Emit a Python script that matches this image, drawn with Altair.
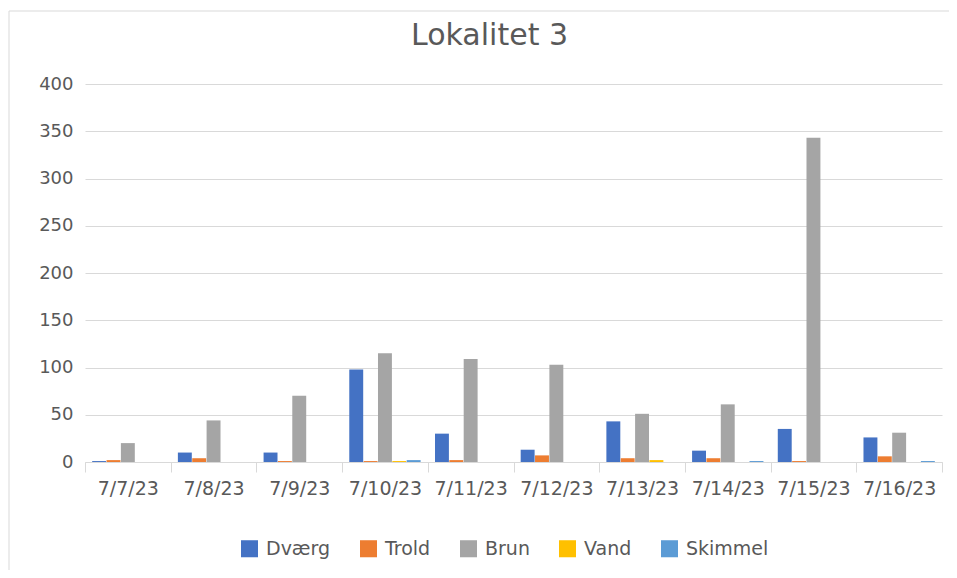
import altair as alt
import pandas as pd

dates = ["7/7/23", "7/8/23", "7/9/23", "7/10/23", "7/11/23", "7/12/23",
         "7/13/23", "7/14/23", "7/15/23", "7/16/23"]
series = ["Dværg", "Trold", "Brun", "Vand", "Skimmel"]
colors = ["#4472C4", "#ED7D31", "#A5A5A5", "#FFC000", "#5B9BD5"]

dvaerg = [1, 10, 10, 98, 30, 13, 43, 12, 35, 26]
trold = [2, 4, 1, 1, 2, 7, 4, 4, 1, 6]
brun = [20, 44, 70, 115, 109, 103, 51, 61, 343, 31]
vand = [0, 0, 0, 1, 0, 0, 2, 0, 0, 0]
skimmel = [0, 0, 0, 2, 0, 0, 0, 1, 0, 1]

values = [dvaerg, trold, brun, vand, skimmel]
rows = []
for s, vals in zip(series, values):
    for d, v in zip(dates, vals):
        rows.append({"Dato": d, "Serie": s, "Antal": v})
df = pd.DataFrame(rows)

FONT = "DejaVu Sans"
GRAY = "#595959"
GRID = "#d9d9d9"

bars = alt.Chart(df).mark_bar().encode(
    x=alt.X("Dato:N", sort=dates, title=None,
            scale=alt.Scale(paddingInner=0, paddingOuter=0),
            axis=alt.Axis(labelAngle=0, tickBand="extent", tickSize=10,
                          tickColor=GRID, domainColor=GRID, labelPadding=7,
                          labelFontSize=19, labelColor=GRAY, labelFont=FONT,
                          grid=False)),
    xOffset=alt.XOffset("Serie:N", sort=series,
                        scale=alt.Scale(paddingInner=0.03, paddingOuter=0.5)),
    y=alt.Y("Antal:Q", title=None,
            scale=alt.Scale(domain=[0, 400], nice=False),
            axis=alt.Axis(values=[0, 50, 100, 150, 200, 250, 300, 350, 400],
                          domain=False, ticks=False, gridColor=GRID,
                          labelFontSize=18, labelColor=GRAY, labelFont=FONT,
                          labelPadding=12)),
    color=alt.Color("Serie:N", sort=series,
                    scale=alt.Scale(domain=series, range=colors),
                    legend=alt.Legend(title=None, orient="none",
                                      legendX=155, legendY=455,
                                      direction="horizontal",
                                      symbolType="square", symbolSize=290,
                                      symbolStrokeWidth=0,
                                      labelFontSize=19, labelColor=GRAY,
                                      labelFont=FONT, columnPadding=28,
                                      labelOffset=7, symbolOffset=0)),
)

border = alt.Chart(pd.DataFrame({"b": [0]})).mark_rect(
    fill=None, stroke=GRID, strokeWidth=1
).encode(x=alt.value(-76), x2=alt.value(900), y=alt.value(-73), y2=alt.value(600))

chart = alt.layer(border, bars).properties(
    width=857, height=378,
    title=alt.TitleParams("Lokalitet 3", fontSize=30, font=FONT, color=GRAY,
                          fontWeight="normal", anchor="middle", dx=-24,
                          offset=-40),
    autosize=alt.AutoSizeParams(type="none"),
    padding={"left": 77, "top": 76, "right": 7, "bottom": 108},
).configure_view(stroke=None)

chart.save("out.html", embed_options={"renderer": "svg", "actions": False})
